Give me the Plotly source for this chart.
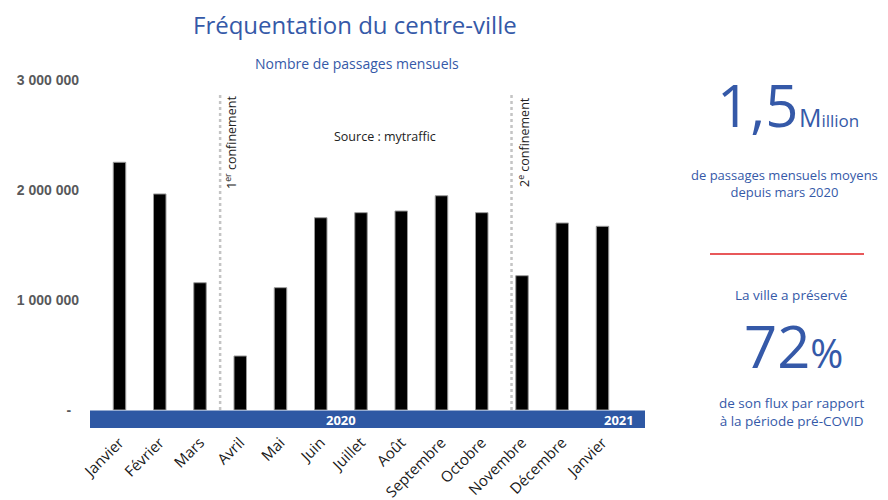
import plotly.graph_objects as go

# ---- data ----
months = ["Janvier", "Février", "Mars", "Avril", "Mai", "Juin", "Juillet", "Août",
          "Septembre", "Octobre", "Novembre", "Décembre", "Janvier"]
passages = [2252000, 1964000, 1157000, 491000, 1112000, 1748000, 1794000, 1809000,
            1948000, 1794000, 1221000, 1700000, 1670000]
y_tickvals = [0, 1000000, 2000000, 3000000]
y_ticktext = ["-\u00a0\u00a0", "1 000 000", "2 000 000", "3 000 000"]
years = ["2020", "2021"]
confinements = ["1<sup>er</sup> confinement", "2<sup>e</sup> confinement"]
confinement_x = [2.5, 9.74]

BLUE = "#3559A8"
BAND = "#2E58A4"
FONT = "Open Sans"

# page body has an 8px margin: the figure is drawn from (8, 8) in the window
OFF = 8
W, H = 888 - OFF, 500 - OFF
L, R, T, B = 90 - OFF, 888 - 645, 80 - OFF, 500 - 410
PW, PH = W - L - R, H - T - B


def px(xp):
    return (xp - OFF - L) / PW


def py(yp):
    return (H - B - (yp - OFF)) / PH


x = list(range(len(months)))

fig = go.Figure()
fig.add_trace(go.Bar(
    x=x, y=passages, width=0.31,
    marker=dict(color="#000000", line=dict(color="#9a9a9a", width=1)),
    hoverinfo="y",
))

shapes = [
    dict(type="rect", xref="paper", yref="paper", x0=0, x1=1, y0=py(428), y1=py(410.5),
         fillcolor=BAND, line=dict(width=0), layer="below"),
    dict(type="line", xref="paper", yref="paper", x0=px(710), x1=px(864), y0=py(254), y1=py(254),
         line=dict(color="#E8585A", width=2)),
]
for cx in confinement_x:
    shapes.append(dict(type="line", xref="x", yref="paper", x0=cx, x1=cx, y0=0, y1=py(95),
                       line=dict(color="#c4c4c4", width=2.5, dash="dot")))

annotations = [
    dict(text="Fréquentation du centre-ville", xref="paper", yref="paper", x=px(355), y=py(24),
         showarrow=False, font=dict(family=FONT, size=24, color=BLUE), xanchor="center", yanchor="middle"),
    dict(text="Nombre de passages mensuels", xref="paper", yref="paper", x=px(357), y=py(63),
         showarrow=False, font=dict(family=FONT, size=14, color=BLUE), xanchor="center", yanchor="middle"),
    dict(text="Source : mytraffic", xref="paper", yref="paper", x=px(385), y=py(136),
         showarrow=False, font=dict(family=FONT, size=12.5, color="#222222"), xanchor="center", yanchor="middle"),
    # year labels in band
    dict(text="<b>" + years[0] + "</b>", xref="x", yref="paper", x=5.5, y=py(419.5),
         showarrow=False, font=dict(family=FONT, size=13, color="white"), xanchor="center", yanchor="middle"),
    dict(text="<b>" + years[1] + "</b>", xref="x", yref="paper", x=12.42, y=py(419.5),
         showarrow=False, font=dict(family=FONT, size=13, color="white"), xanchor="center", yanchor="middle"),
    # right panel
    dict(text="1,5<span style='font-size:2px'> </span><span style='font-size:25px'>M</span><span style='font-size:17px'>illion</span>",
         xref="paper", yref="paper", x=px(788), y=py(132), showarrow=False,
         font=dict(family=FONT, size=58, color=BLUE), xanchor="center", yanchor="bottom", yshift=-14),
    dict(text="de passages mensuels moyens<br>depuis mars 2020", xref="paper", yref="paper",
         x=px(784), y=py(183), showarrow=False, align="center",
         font=dict(family=FONT, size=13, color=BLUE), xanchor="center", yanchor="middle"),
    dict(text="La ville a préservé", xref="paper", yref="paper", x=px(791), y=py(295), showarrow=False,
         font=dict(family=FONT, size=13.5, color=BLUE), xanchor="center", yanchor="middle"),
    dict(text="72<span style='font-size:40px'>%</span>", xref="paper", yref="paper", x=px(793), y=py(373),
         showarrow=False, font=dict(family=FONT, size=58, color=BLUE), xanchor="center", yanchor="bottom",
         yshift=-14),
    dict(text="de son flux par rapport<br>à la période pré-COVID", xref="paper", yref="paper",
         x=px(791), y=py(412), showarrow=False, align="center",
         font=dict(family=FONT, size=13.5, color=BLUE), xanchor="center", yanchor="middle"),
]
for cx, label, yc in zip([231, 524], confinements, [143, 142]):
    annotations.append(dict(text=label, xref="paper", yref="paper", x=px(cx), y=py(yc), textangle=-90,
                            showarrow=False, font=dict(family=FONT, size=12.5, color="#222222"),
                            xanchor="center", yanchor="middle"))

fig.update_layout(
    width=W, height=H,
    margin=dict(l=L, r=R, t=T, b=B, pad=0, autoexpand=False),
    paper_bgcolor="white", plot_bgcolor="white",
    showlegend=False,
    xaxis=dict(range=[-0.733, 13.056], tickvals=x, ticktext=months, tickangle=-45,
               showgrid=False, zeroline=False, showline=False, ticks="", automargin=False,
               ticklabelstandoff=20,
               tickfont=dict(family=FONT, size=15, color="#1a1a1a")),
    yaxis=dict(range=[0, 3000000], tickvals=y_tickvals, ticktext=y_ticktext,
               showgrid=False, zeroline=False, showline=False, ticks="", automargin=False,
               ticklabelstandoff=10,
               tickfont=dict(family="Liberation Sans", size=14, color="#58595B", weight="bold")),
    shapes=shapes,
    annotations=annotations,
)

fig.write_html("out.html")
